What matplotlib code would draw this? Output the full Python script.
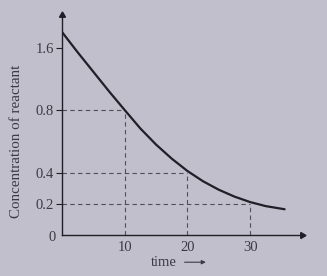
import numpy as np
import matplotlib
matplotlib.use("Agg")
import matplotlib.pyplot as plt
from matplotlib.scale import FuncScale

# ---- data ----
time = [0, 2.5, 5, 7.5, 10, 12.5, 15, 17.5, 20, 22.5, 25, 27.5, 30, 32.5, 35.5]
conc = [1.80, 1.54, 1.29, 1.04, 0.80, 0.682, 0.579, 0.489, 0.41, 0.344, 0.29, 0.246, 0.211, 0.185, 0.165]
guide_times = [10, 20, 30]
guide_conc = [0.8, 0.4, 0.2]
x_ticks = [10, 20, 30]
x_tick_labels = ["10", "20", "30"]
y_ticks = [0.2, 0.4, 0.8, 1.6]
y_tick_labels = ["0.2", "0.4", "0.8", "1.6"]

BG = "#c0bfcb"
INK = "#1f1f27"
TXT = "#3a3a44"
DASH = "#50505c"

# schematic (non-uniform) vertical scale of the drawing
_v = [-10, 0, 0.8, 10]
_u = [-50, 0, 4, 27]
def fwd(v):
    return np.interp(v, _v, _u)
def inv(u):
    return np.interp(u, _u, _v)

plt.rcParams['font.family'] = ['Liberation Serif', 'DejaVu Serif']

fig = plt.figure(figsize=(3.27, 2.76), dpi=100, facecolor=BG)
ax = fig.add_axes([0.19, 0.1486, 0.734, 0.797], facecolor=BG)
ax.set_yscale(FuncScale(ax.yaxis, (fwd, inv)))
ax.set_xlim(0, 38.3)
ax.set_ylim(0, 2.02)

ax.plot(time, conc, color=INK, lw=1.6, solid_capstyle='round', solid_joinstyle='round', zorder=3)

for t, c in zip(guide_times, guide_conc):
    ax.plot([0, t], [c, c], color=DASH, lw=0.8, dashes=(4, 3), zorder=2)
    ax.plot([t, t], [0, c], color=DASH, lw=0.8, dashes=(4, 3), zorder=2)

for s in ['top', 'right']:
    ax.spines[s].set_visible(False)
for s in ['left', 'bottom']:
    ax.spines[s].set_color(INK)
    ax.spines[s].set_linewidth(1.0)

# arrow heads on the axes
ax.plot(1, 0, marker=(3, 0, -90), ms=5, color=INK, transform=ax.transAxes, clip_on=False)
ax.plot(0, 1, marker=(3, 0, 0), ms=5, color=INK, transform=ax.transAxes, clip_on=False)

ax.set_xticks(x_ticks)
ax.set_xticklabels(x_tick_labels)
ax.set_yticks(y_ticks)
ax.set_yticklabels(y_tick_labels)
ax.yaxis.set_minor_locator(matplotlib.ticker.NullLocator())
ax.xaxis.set_minor_locator(matplotlib.ticker.NullLocator())
ax.tick_params(axis='x', length=0, pad=4, labelsize=10.5, labelcolor=TXT)
ax.tick_params(axis='y', length=4, width=0.8, color=INK, pad=2, labelsize=10.5, labelcolor=TXT)

ax.text(-0.025, -0.01, "0", transform=ax.transAxes, ha='right', va='center', fontsize=10.5, color=TXT)

ax.set_ylabel("Concentration of reactant", fontsize=10.8, color=TXT, va='center')
ax.yaxis.set_label_coords(-0.19, 0.427)

fig.text(0.541, 0.05, "time", ha='right', va='center', fontsize=10.5, color=TXT)
ax.annotate("", xy=(0.638, 0.05), xytext=(0.556, 0.05), xycoords='figure fraction',
            arrowprops=dict(arrowstyle='-|>', color=TXT, lw=0.8, mutation_scale=6))

fig.savefig("out.png", dpi=100, facecolor=BG)
